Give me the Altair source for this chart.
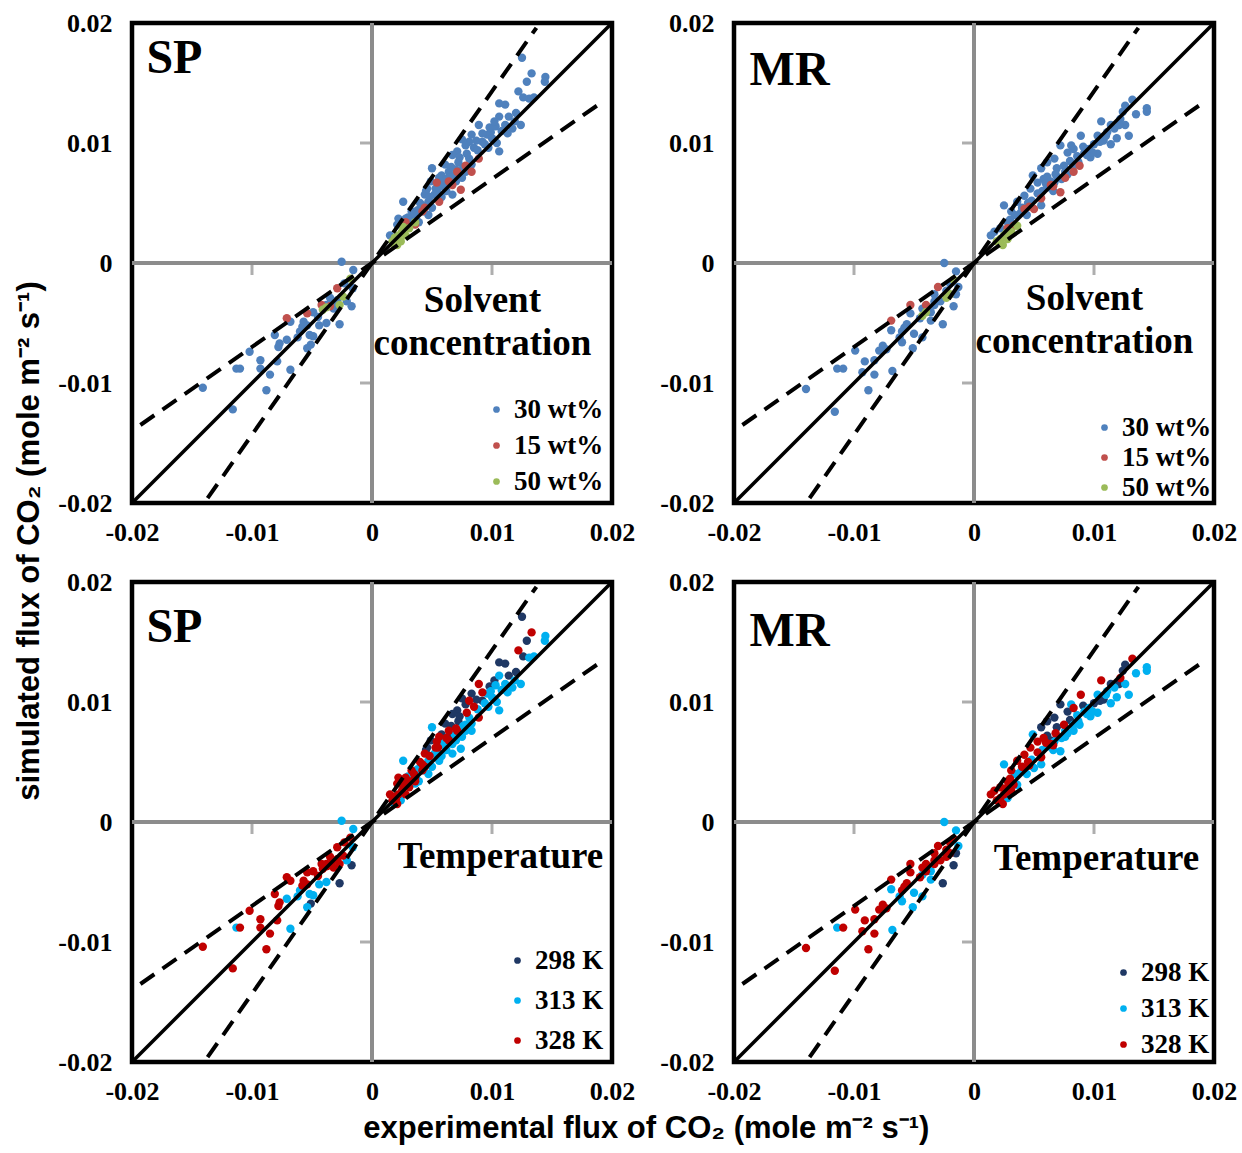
import altair as alt
import pandas as pd

# ---------------- data ----------------
CONC_LABELS = ["30 wt%", "15 wt%", "50 wt%"]
CONC_COLORS = ["#4F81BD", "#C0504D", "#9BBB59"]
TEMP_LABELS = ["298 K", "313 K", "328 K"]
TEMP_COLORS = ["#1F3864", "#00B0F0", "#C00000"]
CONC_CODES = [30, 15, 50]
TEMP_CODES = [298, 313, 328]

AXIS_VALUES = [-0.02, -0.01, 0, 0.01, 0.02]
ZERO_TICKS = [-0.01, 0.01]

# SP model, positive fluxes
sp_pos_exp = [0.0125, 0.01445, 0.0144, 0.0133, 0.0129, 0.0135, 0.0131, 0.0126, 0.0122, 0.0106,
              0.0111, 0.0114, 0.0119, 0.0124, 0.0111, 0.0106, 0.0103, 0.0099, 0.0096, 0.0092,
              0.0089, 0.0100, 0.0104, 0.0106, 0.0097, 0.0092, 0.0083, 0.0081, 0.0085, 0.0075,
              0.0078, 0.0071, 0.0067, 0.0072, 0.0081, 0.0083, 0.0089, 0.0083, 0.0061, 0.0064,
              0.0069, 0.0075, 0.0058, 0.0064, 0.0067, 0.0074, 0.0050, 0.0056, 0.0049, 0.0053,
              0.0060, 0.0067, 0.0044, 0.0047, 0.0042, 0.0050, 0.0056, 0.0044, 0.0042, 0.0026,
              0.0033, 0.0036, 0.0039, 0.0031, 0.0028, 0.0043, 0.0047, 0.0028, 0.0036, 0.0036,
              0.0031, 0.0025, 0.0022, 0.0019, 0.0017, 0.0028, 0.0024, 0.0021, 0.0022, 0.0021,
              0.0015, 0.0055, 0.0058, 0.0062, 0.0070, 0.0078, 0.0065, 0.0045]
sp_pos_sim = [0.0171, 0.0155, 0.0151, 0.0158, 0.0151, 0.0138, 0.0137, 0.0138, 0.0143, 0.0133,
              0.0132, 0.0122, 0.0118, 0.0115, 0.0115, 0.0122, 0.0114, 0.0109, 0.0107, 0.0108,
              0.0115, 0.0104, 0.0100, 0.0093, 0.0096, 0.0101, 0.0107, 0.0101, 0.0096, 0.0103,
              0.0098, 0.0093, 0.0090, 0.0084, 0.0087, 0.0082, 0.0087, 0.0076, 0.0082, 0.0076,
              0.0073, 0.0071, 0.0073, 0.0068, 0.0065, 0.0061, 0.0079, 0.0071, 0.0068, 0.0062,
              0.0064, 0.0057, 0.0057, 0.0051, 0.0048, 0.0046, 0.0051, 0.0046, 0.0043, 0.0051,
              0.0043, 0.0037, 0.0034, 0.0034, 0.0037, 0.0043, 0.0040, 0.0034, 0.0032, 0.0034,
              0.0029, 0.0026, 0.0023, 0.0021, 0.0018, 0.0023, 0.0018, 0.0015, 0.0037, 0.0032,
              0.0023, 0.0058, 0.0055, 0.0060, 0.0068, 0.0076, 0.0071, 0.0060]
sp_pos_conc = [30] * 30 + \
              [30, 30, 30, 30, 30, 30, 15, 15, 30, 30] + \
              [30, 30, 30, 15, 15, 15, 30, 30, 30, 30] + \
              [30, 30, 30, 30, 30, 30, 15, 15, 15, 30] + \
              [30, 30, 30, 30, 30, 30, 30, 15, 15, 50] + \
              [50, 50, 50, 50, 50, 50, 50, 50, 30, 30] + \
              [30] * 8
sp_pos_temp = [298, 313, 313, 328, 298, 313, 313, 298, 328, 298,
               298, 298, 313, 313, 313, 313, 313, 313, 313, 328,
               328, 313, 313, 313, 313, 298, 298, 328, 328, 298,
               298, 298, 298, 298, 313, 313, 328, 313, 298, 328,
               313, 313, 298, 328, 313, 313, 313, 328, 298, 328,
               313, 313, 328, 313, 328, 313, 313, 328, 328, 313,
               328, 328, 313, 328, 328, 313, 313, 328, 313, 328,
               328, 328, 328, 328, 328, 328, 313, 328, 328, 328,
               328, 313, 313, 313, 313, 313, 298, 298]

# SP model, further points inside the dense part of the cloud
sp_more_exp = [0.0098, 0.0102, 0.0108, 0.0113, 0.0117, 0.0120, 0.0094, 0.0088, 0.0087, 0.0079,
               0.0073, 0.0076, 0.0070, 0.0066, 0.0062, 0.0059, 0.0055, 0.0052, 0.0048, 0.0046,
               0.0040, 0.0038, 0.0035, 0.0030, 0.0054, 0.0071, 0.0078, 0.0020, 0.0026, 0.0018,
               -0.0045, -0.0062, -0.0058, -0.0033, -0.0044]
sp_more_sim = [0.0113, 0.0118, 0.0110, 0.0108, 0.0112, 0.0125, 0.0099, 0.0094, 0.0102, 0.0091,
               0.0088, 0.0080, 0.0078, 0.0080, 0.0070, 0.0066, 0.0062, 0.0057, 0.0055, 0.0062,
               0.0050, 0.0044, 0.0040, 0.0038, 0.0067, 0.0076, 0.0081, 0.0019, 0.0030, 0.0016,
               -0.0045, -0.0062, -0.0053, -0.0033, -0.0052]
sp_more_conc = [30] * 24 + [15, 15, 15, 50, 50, 50] + [30] * 5
sp_more_temp = [298, 298, 313, 313, 313, 298, 313, 313, 298, 328,
                298, 313, 328, 298, 328, 313, 328, 313, 328, 298,
                328, 313, 328, 313, 328, 328, 313, 328, 328, 313,
                328, 313, 328, 328, 313]

# SP model, negative fluxes
sp_neg_exp = [-0.00253, -0.00156, -0.0018, -0.0023, -0.0016, -0.0029, -0.0035, -0.0029, -0.0024, -0.0021,
              -0.0038, -0.0032, -0.0027, -0.0041, -0.0038, -0.0042, -0.0035, -0.0054, -0.0071, -0.0017,
              -0.0049, -0.0057, -0.0054, -0.0068, -0.0060, -0.0052, -0.0049, -0.0038, -0.0027, -0.0081,
              -0.0077, -0.0071, -0.0078, -0.0051, -0.0054, -0.0102, -0.0093, -0.0079, -0.0093, -0.0085,
              -0.0068, -0.0113, -0.0110, -0.0141, -0.0088, -0.0116]
sp_neg_sim = [0.0001, -0.00058, -0.0013, -0.0017, -0.0021, -0.0021, -0.0029, -0.0031, -0.0028, -0.0032,
              -0.0035, -0.0038, -0.0035, -0.0039, -0.0037, -0.0035, -0.0036, -0.0042, -0.0046, -0.0036,
              -0.0041, -0.0049, -0.0052, -0.0049, -0.0057, -0.0060, -0.0061, -0.0050, -0.0051, -0.0060,
              -0.0067, -0.0064, -0.0070, -0.0068, -0.0071, -0.0074, -0.0081, -0.0082, -0.0088, -0.0093,
              -0.0089, -0.0088, -0.0088, -0.0104, -0.0106, -0.0122]
sp_neg_conc = [30, 30, 50, 30, 30, 15, 30, 30, 50, 30,
               30, 30, 50, 50, 50, 15, 15, 15, 15, 30] + [30] * 26
sp_neg_temp = [313, 313, 328, 328, 313, 328, 328, 328, 328, 313,
               328, 328, 328, 328, 328, 328, 328, 328, 328, 298,
               328, 328, 328, 328, 313, 313, 313, 313, 298, 328,
               328, 313, 328, 298, 313, 328, 328, 328, 328, 328,
               313, 313, 328, 328, 328, 328]

# MR model, positive fluxes
mr_pos_exp = [0.0144, 0.0144, 0.0132, 0.0126, 0.0124, 0.0135, 0.0122, 0.0126, 0.0129, 0.0119,
              0.0114, 0.0106, 0.0111, 0.0114, 0.0108, 0.0103, 0.0100, 0.0096, 0.0089, 0.0092,
              0.0086, 0.0097, 0.0103, 0.0083, 0.0078, 0.0072, 0.0081, 0.0067, 0.0061, 0.0069,
              0.0075, 0.0083, 0.0088, 0.0083, 0.0056, 0.0058, 0.0067, 0.0049, 0.0053, 0.0064,
              0.0072, 0.0056, 0.0050, 0.0042, 0.0047, 0.0042, 0.0056, 0.0044, 0.0036, 0.0031,
              0.0025, 0.0028, 0.0022, 0.0017, 0.0014, 0.0036, 0.0031, 0.0025, 0.0022, 0.0019,
              0.0028, 0.0024, 0.0028, 0.0033, 0.0062, 0.0066, 0.0070, 0.0078, 0.0061, 0.0039]
mr_pos_sim = [0.0129, 0.0126, 0.0136, 0.0131, 0.0126, 0.0124, 0.0120, 0.0115, 0.0106, 0.0104,
              0.0115, 0.0118, 0.0109, 0.0099, 0.0102, 0.0106, 0.0099, 0.0095, 0.0106, 0.0092,
              0.0089, 0.0088, 0.0091, 0.0095, 0.0092, 0.0098, 0.0098, 0.0087, 0.0084, 0.0079,
              0.0081, 0.0081, 0.0081, 0.0076, 0.0079, 0.0070, 0.0067, 0.0073, 0.0067, 0.0065,
              0.0059, 0.0054, 0.0045, 0.0045, 0.0062, 0.0056, 0.0048, 0.0040, 0.0051, 0.0043,
              0.0048, 0.0034, 0.0029, 0.0026, 0.0023, 0.0031, 0.0026, 0.0023, 0.0020, 0.0018,
              0.0020, 0.0015, 0.0029, 0.0031, 0.0063, 0.0060, 0.0071, 0.0074, 0.0072, 0.0042]
mr_pos_conc = [30] * 30 + \
              [30, 30, 15, 15, 30, 30, 30, 30, 30, 15] + \
              [15, 15, 15, 15, 30, 30, 30, 30, 30, 30] + \
              [30, 30, 30, 30, 30, 50, 50, 50, 50, 50] + \
              [50, 50, 15, 15, 30, 30, 30, 30, 30, 30]
mr_pos_temp = [313, 313, 328, 298, 298, 313, 328, 313, 313, 313,
               298, 328, 313, 313, 298, 313, 298, 313, 328, 313,
               313, 313, 313, 328, 298, 298, 313, 298, 298, 298,
               328, 313, 313, 313, 298, 328, 313, 313, 328, 328,
               313, 328, 313, 328, 328, 328, 313, 313, 328, 328,
               313, 328, 328, 328, 328, 313, 328, 328, 328, 328,
               313, 328, 328, 328, 313, 313, 313, 313, 298, 313]

# MR model, further points inside the dense part of the cloud
mr_more_exp = [0.0117, 0.0121, 0.0110, 0.0105, 0.0099, 0.0094, 0.0091, 0.0087, 0.0080, 0.0076,
               0.0073, 0.0068, 0.0064, 0.0060, 0.0057, 0.0053, 0.0048, 0.0045, 0.0040, 0.0034,
               0.0030, 0.0066, 0.0076, 0.0046, 0.0020, 0.0027,
               -0.0045, -0.0062, -0.0058, -0.0033]
mr_more_sim = [0.0112, 0.0115, 0.0106, 0.0101, 0.0092, 0.0090, 0.0097, 0.0084, 0.0085, 0.0076,
               0.0070, 0.0074, 0.0068, 0.0066, 0.0060, 0.0058, 0.0052, 0.0050, 0.0046, 0.0040,
               0.0036, 0.0064, 0.0071, 0.0047, 0.0018, 0.0025,
               -0.0046, -0.0062, -0.0054, -0.0032]
mr_more_conc = [30] * 21 + [15, 15, 15, 50, 50] + [30] * 4
mr_more_temp = [313, 298, 313, 298, 313, 313, 298, 313, 298, 313,
                313, 328, 298, 328, 313, 328, 313, 328, 328, 313,
                328, 328, 313, 328, 328, 328,
                328, 313, 328, 328]

# MR model, negative fluxes
mr_neg_exp = [-0.00248, -0.0015, -0.0017, -0.0013, -0.0020, -0.0023, -0.0015, -0.0030, -0.0033, -0.0028,
              -0.0040, -0.0043, -0.0036, -0.0033, -0.0020, -0.0023, -0.0040, -0.0043, -0.0053, -0.0053,
              -0.0069, -0.0026, -0.0036, -0.0017, -0.0056, -0.0060, -0.0050, -0.0051, -0.0060, -0.0043,
              -0.0069, -0.0076, -0.0079, -0.0073, -0.0068, -0.0083, -0.0091, -0.0093, -0.0083, -0.0099,
              -0.0114, -0.0109, -0.0140, -0.0088, -0.0116]
mr_neg_sim = [0.0000, -0.0007, -0.0014, -0.0020, -0.0017, -0.0023, -0.0026, -0.0020, -0.0026, -0.0032,
              -0.0035, -0.0038, -0.0041, -0.0035, -0.0026, -0.0029, -0.0041, -0.0044, -0.0035, -0.0042,
              -0.0048, -0.0051, -0.0048, -0.0036, -0.0051, -0.0057, -0.0059, -0.0071, -0.0066, -0.0062,
              -0.0056, -0.0069, -0.0073, -0.0072, -0.0090, -0.0081, -0.0082, -0.0091, -0.0093, -0.0073,
              -0.0088, -0.0088, -0.0105, -0.0106, -0.0124]
mr_neg_conc = [30, 30, 50, 30, 30, 30, 30, 15, 30, 30,
               15, 30, 30, 30, 50, 50, 50, 50, 15, 30,
               15] + [30] * 24
mr_neg_temp = [313, 313, 328, 313, 328, 328, 298, 328, 328, 328,
               328, 328, 313, 328, 328, 328, 328, 313, 328, 328,
               328, 298, 313, 298, 328, 328, 313, 313, 313, 313,
               313, 328, 328, 328, 313, 328, 328, 328, 328, 328,
               313, 328, 328, 328, 328]

# reference lines (end points)
diag_x = [-0.02, 0.02]
diag_y = [-0.02, 0.02]
upper_x = [-0.0137, 0.0137]
upper_y = [-0.0196, 0.0196]
lower_x = [-0.0193, 0.0193]
lower_y = [-0.0135, 0.0135]

# panel annotations
panel_names = ["SP", "MR", "SP", "MR"]
name_x = [-0.0188, -0.0187, -0.0188, -0.0187]
name_y = [0.0158, 0.0148, 0.0150, 0.0147]
note_lines = [["Solvent", "concentration"], ["Solvent", "concentration"],
              ["Temperature"], ["Temperature"]]
note_x = [0.0092, 0.0092, 0.0107, 0.0102]
note_y = [[-0.0041, -0.0077], [-0.0039, -0.0075], [-0.0038], [-0.0040]]
legend_row_pad = [8, 2, 12, 8]
legend_offset = [8, 2, 8, 4]

SERIF = "Liberation Serif"
SANS = "Liberation Sans"


def model_frame(groups):
    conc_map = dict(zip(CONC_CODES, CONC_LABELS))
    temp_map = dict(zip(TEMP_CODES, TEMP_LABELS))
    ex, si, co, te = [], [], [], []
    for e, s, c, t in groups:
        ex += e
        si += s
        co += c
        te += t
    df = pd.DataFrame({
        "exp": ex,
        "sim": si,
        "conc": [conc_map[c] for c in co],
        "temp": [temp_map[t] for t in te],
    })
    df["conc_z"] = [CONC_LABELS.index(v) for v in df["conc"]]
    df["temp_z"] = [TEMP_LABELS.index(v) for v in df["temp"]]
    return df


sp_df = model_frame([(sp_pos_exp, sp_pos_sim, sp_pos_conc, sp_pos_temp),
                     (sp_more_exp, sp_more_sim, sp_more_conc, sp_more_temp),
                     (sp_neg_exp, sp_neg_sim, sp_neg_conc, sp_neg_temp)])
mr_df = model_frame([(mr_pos_exp, mr_pos_sim, mr_pos_conc, mr_pos_temp),
                     (mr_more_exp, mr_more_sim, mr_more_conc, mr_more_temp),
                     (mr_neg_exp, mr_neg_sim, mr_neg_conc, mr_neg_temp)])

LABEL_EXPR = "datum.value == 0 ? '0' : (datum.value < 0 ? '-' : '') + format(abs(datum.value), '.2f')"

x_axis = alt.Axis(values=AXIS_VALUES, labelExpr=LABEL_EXPR, domain=False, ticks=False, grid=False,
                  labelFont=SERIF, labelFontWeight="bold", labelFontSize=26, labelColor="black",
                  labelPadding=16, title=None, labelFlush=False, labelOverlap=False)
y_axis = alt.Axis(values=AXIS_VALUES, labelExpr=LABEL_EXPR, domain=False, ticks=False, grid=False,
                  labelFont=SERIF, labelFontWeight="bold", labelFontSize=26, labelColor="black",
                  labelPadding=20, title=None, labelFlush=False, labelOverlap=False)
x_scale = alt.Scale(domain=[-0.02, 0.02], nice=False, zero=False)
y_scale = alt.Scale(domain=[-0.02, 0.02], nice=False, zero=False)

GRAY = "#8C8C8C"


def panel(i, df, field, labels, colors, zfield):
    X = alt.X("x:Q", scale=x_scale, axis=x_axis)
    Y = alt.Y("y:Q", scale=y_scale, axis=y_axis)

    zero_v = alt.Chart(pd.DataFrame({"x": [0]})).mark_rule(color=GRAY, strokeWidth=4).encode(x=X)
    zero_h = alt.Chart(pd.DataFrame({"y": [0]})).mark_rule(color=GRAY, strokeWidth=4).encode(y=Y)
    tick_h = alt.Chart(pd.DataFrame({"x": ZERO_TICKS, "y": [0, 0]})).mark_tick(
        orient="vertical", size=12, thickness=3, color=GRAY, yOffset=6).encode(x=X, y=Y)
    tick_v = alt.Chart(pd.DataFrame({"y": ZERO_TICKS, "x": [0, 0]})).mark_tick(
        orient="horizontal", size=12, thickness=3, color=GRAY, xOffset=-6).encode(x=X, y=Y)

    pts_df = df.rename(columns={"exp": "x", "sim": "y"})
    points = alt.Chart(pts_df).mark_circle(size=70, opacity=1).encode(
        x=X, y=Y,
        color=alt.Color(field + ":N", scale=alt.Scale(domain=labels, range=colors),
                        legend=alt.Legend(title=None, orient="bottom-right", offset=legend_offset[i],
                                          padding=0, labelFont=SERIF, labelFontWeight="bold",
                                          labelFontSize=27, labelColor="black", symbolType="circle",
                                          symbolSize=45, symbolStrokeWidth=0,
                                          rowPadding=legend_row_pad[i], labelOffset=4, labelLimit=300)),
        order=alt.Order(zfield + ":Q"),
    )

    diag = alt.Chart(pd.DataFrame({"x": diag_x, "y": diag_y})).mark_line(
        color="black", strokeWidth=3.5).encode(x=X, y=Y)
    dash_df = pd.DataFrame({"x": upper_x + lower_x, "y": upper_y + lower_y,
                            "line": ["upper"] * 2 + ["lower"] * 2})
    dashed = alt.Chart(dash_df).mark_line(color="black", strokeWidth=4, strokeDash=[17, 10],
                                          clip=True).encode(x=X, y=Y, detail="line:N")

    name = alt.Chart(pd.DataFrame({"x": [name_x[i]], "y": [name_y[i]], "t": [panel_names[i]]})).mark_text(
        font=SERIF, fontWeight="bold", fontSize=48, align="left", baseline="alphabetic", color="black"
    ).encode(x=X, y=Y, text="t:N")
    note = alt.Chart(pd.DataFrame({"x": [note_x[i]] * len(note_lines[i]), "y": note_y[i],
                                   "t": note_lines[i]})).mark_text(
        font=SERIF, fontWeight="bold", fontSize=37, align="center", baseline="alphabetic", color="black"
    ).encode(x=X, y=Y, text="t:N")

    return alt.layer(zero_v, zero_h, tick_h, tick_v, points, diag, dashed, name, note).properties(
        width=480, height=480)


p1 = panel(0, sp_df, "conc", CONC_LABELS, CONC_COLORS, "conc_z")
p2 = panel(1, mr_df, "conc", CONC_LABELS, CONC_COLORS, "conc_z")
p3 = panel(2, sp_df, "temp", TEMP_LABELS, TEMP_COLORS, "temp_z")
p4 = panel(3, mr_df, "temp", TEMP_LABELS, TEMP_COLORS, "temp_z")

grid = alt.concat(p1, p2, p3, p4, columns=2, bounds="flush",
                  spacing=alt.RowColnumber(row=79, column=122)).resolve_scale(
    color="independent", x="independent", y="independent").resolve_legend(color="independent").properties(
    title=alt.TitleParams(text="simulated flux of CO₂ (mole m⁻² s⁻¹)", orient="left", anchor="middle",
                          font=SANS, fontSize=31, fontWeight="bold", color="black", offset=10, dx=16))

chart = alt.vconcat(grid).resolve_scale(
    color="independent", x="independent", y="independent").resolve_legend(color="independent").properties(
    title=alt.TitleParams(text="experimental flux of CO₂ (mole m⁻² s⁻¹)", orient="bottom", anchor="middle",
                          font=SANS, fontSize=31, fontWeight="bold", color="black", offset=8, dx=20),
    padding={"left": 13, "top": 7, "right": 2, "bottom": 2},
    background="white",
).configure_view(stroke="black", strokeWidth=4.5)

chart.save("out.html", embed_options={"renderer": "svg", "actions": False})
